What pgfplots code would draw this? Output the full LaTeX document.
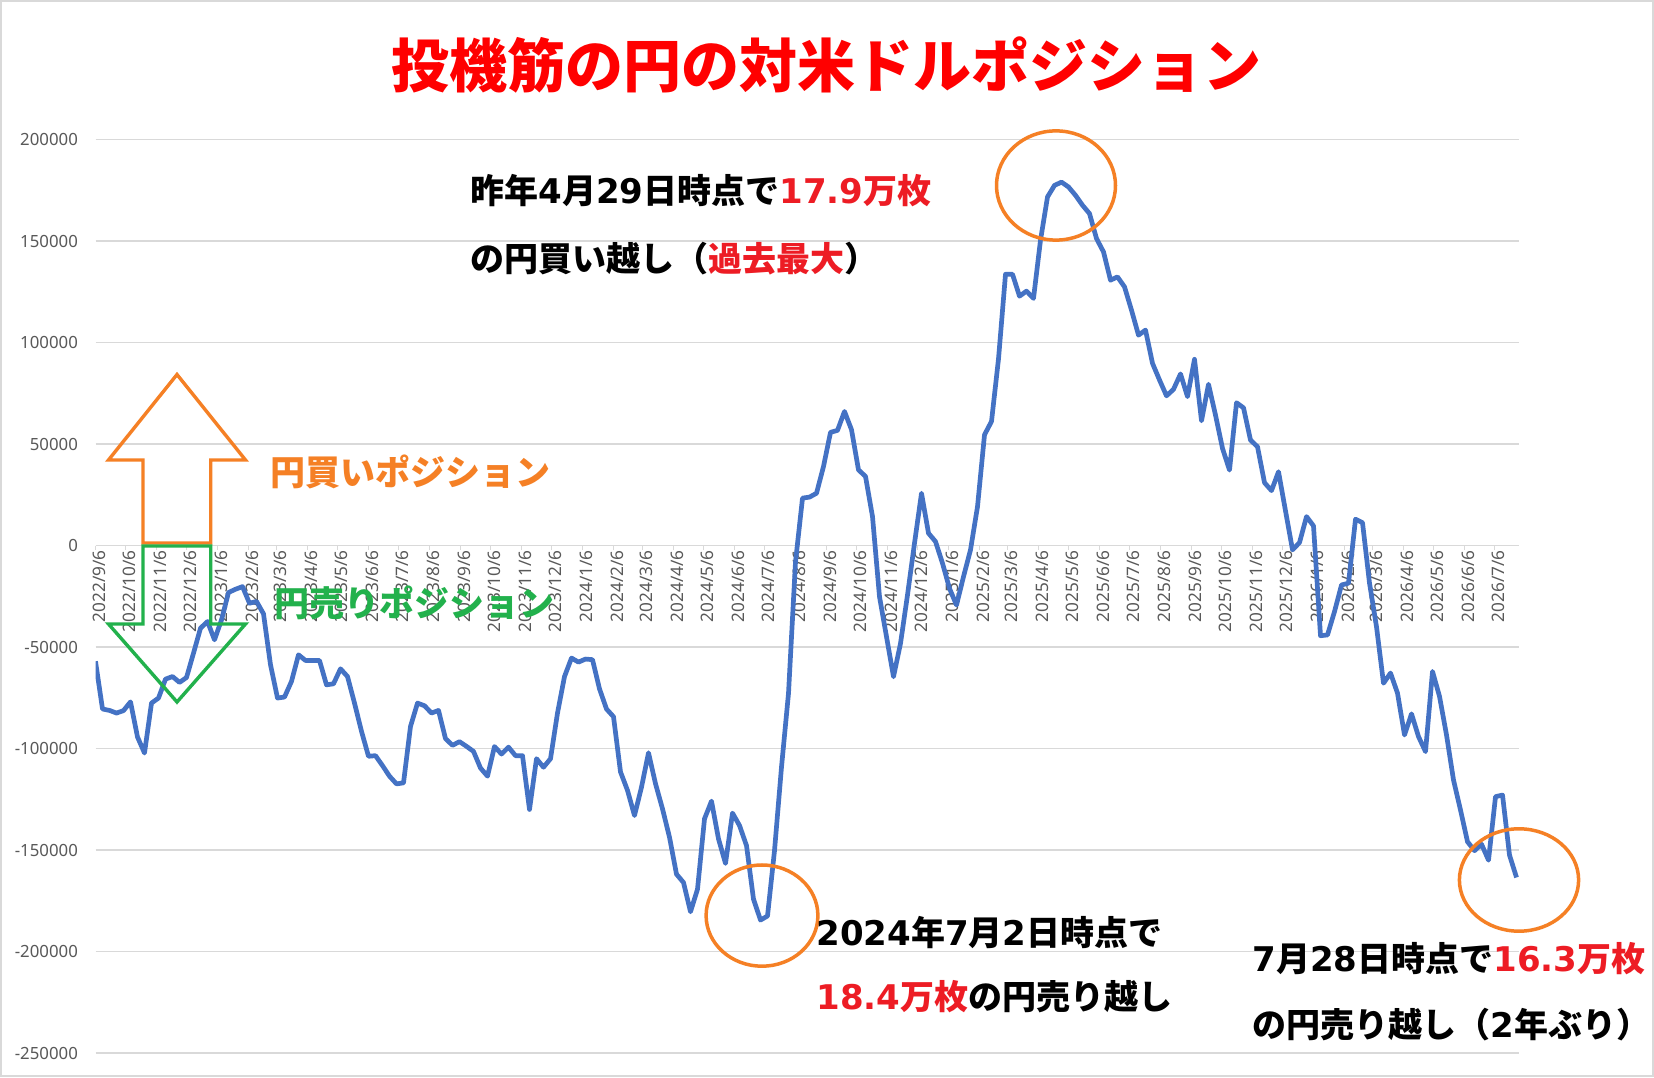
\documentclass[border=0pt]{standalone}
\usepackage{pgfplots}
\pgfplotsset{compat=1.18}
\usepackage{pgfplotstable}
\usepackage{fontspec}
\setmainfont{Noto Sans CJK JP}
\newfontfamily\tickfont{Noto Sans}
\newfontfamily\dv{DejaVu Sans}
\definecolor{tickc}{HTML}{595959}
\definecolor{gridc}{HTML}{D9D9D9}
\definecolor{lineblue}{HTML}{4472C4}
\definecolor{orng}{HTML}{F58025}
\definecolor{grn}{HTML}{22B14C}
\definecolor{annred}{HTML}{ED1C24}
\definecolor{titlered}{HTML}{FF0000}
\pgfplotstableread{
d v
0 -57000
7 -80500
14 -81200
21 -82500
28 -81300
35 -77000
42 -94300
49 -102200
56 -77600
63 -75100
70 -65800
77 -64500
84 -67400
91 -65000
98 -53000
105 -40700
112 -37400
119 -46400
126 -36600
133 -23100
140 -21500
147 -20200
154 -28400
161 -27500
168 -33600
175 -58700
182 -75100
189 -74600
196 -66900
203 -53800
210 -56600
217 -56600
224 -56600
231 -68600
238 -68100
245 -60700
252 -64500
259 -77600
266 -91500
273 -103800
280 -103500
287 -108400
294 -113600
301 -117400
308 -116900
315 -89100
322 -77600
329 -78900
336 -82500
343 -81200
350 -95100
357 -98400
364 -96600
371 -98900
378 -101400
385 -109600
392 -113600
399 -99000
406 -102700
413 -99300
420 -103500
427 -103500
434 -130000
441 -105000
448 -109200
455 -105000
462 -82500
469 -64500
476 -55400
483 -57400
490 -55900
497 -56200
504 -70600
511 -80500
518 -84300
525 -111500
532 -120600
539 -133000
546 -119000
553 -102100
560 -117300
567 -129700
574 -143700
581 -161900
588 -166000
595 -180400
602 -169300
609 -134600
616 -125900
623 -144500
630 -156600
637 -131800
644 -137900
651 -147800
658 -174200
665 -184500
672 -182500
679 -150300
686 -109100
693 -72800
700 -8000
707 23400
714 23900
721 25800
728 39000
735 55800
742 56800
749 66100
756 57100
763 37300
770 34100
777 14300
784 -25200
791 -44900
798 -64600
805 -48200
812 -24300
819 1200
826 25800
833 6100
840 2000
847 -8700
854 -21100
861 -29300
868 -15300
875 -2100
882 19200
889 54600
896 61200
903 92000
910 133700
917 133700
924 122900
931 125400
938 121800
945 150500
952 171800
959 177500
966 179100
973 176700
980 172600
987 167700
994 163600
1001 151300
1008 144700
1015 130800
1022 132400
1029 127500
1036 116000
1043 103700
1050 106200
1057 89800
1064 81600
1071 73800
1078 77000
1085 84600
1092 73400
1099 91800
1106 61500
1113 79500
1120 64300
1127 47900
1134 37200
1141 70400
1148 67900
1155 52000
1162 48700
1169 31000
1176 27100
1183 36400
1190 17100
1197 -2100
1204 1500
1211 14300
1218 9700
1225 -44400
1232 -44000
1239 -32500
1246 -19400
1253 -18500
1260 13000
1267 11300
1274 -18500
1281 -40000
1288 -67800
1295 -62800
1302 -72700
1309 -93300
1316 -82900
1323 -94100
1330 -101500
1337 -62000
1344 -74300
1351 -93300
1358 -115500
1365 -130300
1372 -145900
1379 -150300
1386 -147100
1393 -155000
1400 -123700
1407 -122900
1414 -152500
1421 -163500
}\positions
\begin{document}
\begin{tikzpicture}[x=0.5pt,y=0.5pt]
\path[use as bounding box] (0,0) rectangle (1654,1077);
\fill[white] (0,0) rectangle (1654,1077);
\begin{axis}[
  at={(47.75pt,12pt)}, anchor=south west,
  scale only axis, width=711.75pt, height=456.65pt,
  xmin=0, xmax=1423.5, ymin=-250000, ymax=200000,
  scaled y ticks=false, scaled x ticks=false,
  axis x line*=middle, axis y line*=left,
  hide obscured x ticks=false, hide obscured y ticks=false,
  y axis line style={draw=none},
  x axis line style={draw=gridc, line width=0.8pt},
  ymajorgrids, grid style={draw=gridc, line width=0.8pt},
  ytick={-250000,-200000,-150000,-100000,-50000,0,50000,100000,150000,200000},
  yticklabels={-250000,-200000,-150000,-100000,-50000,0,50000,100000,150000,200000},
  ytick style={draw=none},
  xtick={0,30,61,91,122,153,181,212,242,273,303,334,365,395,426,456,487,518,547,578,608,639,669,700,731,761,792,822,853,884,912,943,973,1004,1034,1065,1096,1126,1157,1187,1218,1249,1277,1308,1338,1369,1399},
  xticklabels={2022/9/6,2022/10/6,2022/11/6,2022/12/6,2023/1/6,2023/2/6,2023/3/6,2023/4/6,2023/5/6,2023/6/6,2023/7/6,2023/8/6,2023/9/6,2023/10/6,2023/11/6,2023/12/6,2024/1/6,2024/2/6,2024/3/6,2024/4/6,2024/5/6,2024/6/6,2024/7/6,2024/8/6,2024/9/6,2024/10/6,2024/11/6,2024/12/6,2025/1/6,2025/2/6,2025/3/6,2025/4/6,2025/5/6,2025/6/6,2025/7/6,2025/8/6,2025/9/6,2025/10/6,2025/11/6,2025/12/6,2026/1/6,2026/2/6,2026/3/6,2026/4/6,2026/5/6,2026/6/6,2026/7/6},
  xtick style={draw=gridc, line width=0.8pt},
  xtick align=outside, major tick length=2.2pt,
  xticklabel style={rotate=90, anchor=east, inner sep=0pt, font=\tickfont\fontsize{8.6}{10}\selectfont, text=tickc, yshift=-2pt},
  yticklabel style={anchor=east, inner sep=0pt, xshift=-8.6pt, font=\tickfont\fontsize{8.4}{10}\selectfont, text=tickc},
]
\addplot[lineblue, line width=2.35pt, line join=round, mark=none] table[x=d, y=v] {\positions};
\end{axis}
\begin{scope}[shift={(0pt,538.5pt)}, x=0.5pt, y=-0.5pt]
% arrows
\draw[orng, line width=1.7pt, line join=miter] (143,543) -- (143,460) -- (108.5,460) -- (177,374.5) -- (245.5,460) -- (210.7,460) -- (210.7,543) -- cycle;
\draw[grn, line width=1.7pt, line join=miter] (143,546) -- (143,624) -- (108.5,624) -- (177,702) -- (245.5,624) -- (210.7,624) -- (210.7,546) -- cycle;
\node[anchor=west, inner sep=0pt, text=orng, font=\fontsize{17.5}{20}\selectfont\bfseries] at (270,471.5) {円買いポジション};
\node[anchor=west, inner sep=0pt, text=grn, font=\fontsize{17.5}{20}\selectfont\bfseries] at (274,603.4) {円売りポジション};
% circles
\draw[orng, line width=1.75pt] (1056,185.5) ellipse [x radius=29.75pt, y radius=27.3pt];
\draw[orng, line width=1.75pt] (762,915.6) ellipse [x radius=27.95pt, y radius=25.3pt];
\draw[orng, line width=1.75pt] (1519,880) ellipse [x radius=29.8pt, y radius=25.6pt];
% annotations
\begin{scope}[every node/.style={anchor=west, inner sep=0pt, font=\fontsize{17}{20}\selectfont\bfseries}]
\node at (470,190.5) {昨年{\dv 4}月{\dv 29}日時点で\textcolor{annred}{{\dv 17.9}万枚}};
\node at (470,259) {の円買い越し（\textcolor{annred}{過去最大}）};
\node at (816,932.5) {{\dv 2024}年{\dv 7}月{\dv 2}日時点で};
\node at (816,996.8) {\textcolor{annred}{{\dv 18.4}万枚}の円売り越し};
\node at (1252,958.9) {{\dv 7}月{\dv 28}日時点で\textcolor{annred}{{\dv 16.3}万枚}};
\node at (1252,1024.3) {の円売り越し（{\dv 2}年ぶり）};
\end{scope}
% title
\node[font=\fontsize{29}{34}\selectfont\bfseries, text=titlered] at (826.5,65) {投機筋の円の対米ドルポジション};
% border
\draw[gridc, line width=0.85pt] (0.85,0.85) rectangle (1653.15,1076.15);
\end{scope}
\end{tikzpicture}
\end{document}
